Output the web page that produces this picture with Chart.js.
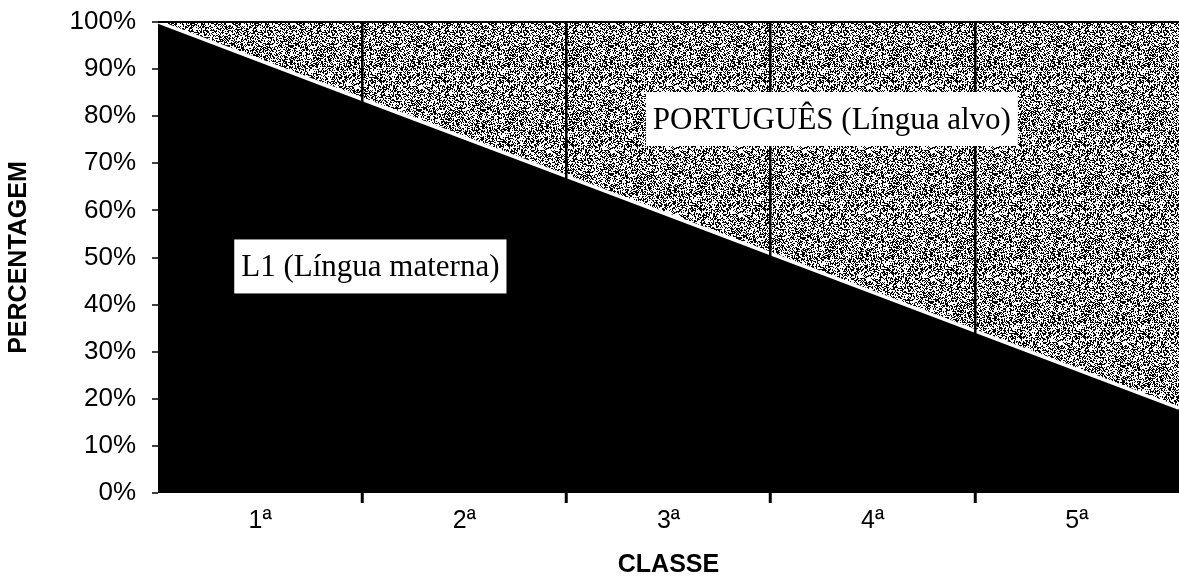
<!DOCTYPE html>
<html>
<head>
<meta charset="utf-8">
<script src="https://cdn.jsdelivr.net/npm/chart.js@4"></script>
<style>
  html, body { margin: 0; padding: 0; background: #fff; }
  #c { display: block; }
</style>
</head>
<body>
<canvas id="c" width="1179" height="578"></canvas>
<script>
// ---- data ----
const categories = ['1ª', '2ª', '3ª', '4ª', '5ª'];
const classBoundaries = [0.5, 1.5, 2.5, 3.5, 4.5, 5.5];
const l1Values = [100, 83.6, 67.2, 50.8, 34.4, 18];
const portuguesValues = [0, 16.4, 32.8, 49.2, 65.6, 82];
const yTickValues = [0, 10, 20, 30, 40, 50, 60, 70, 80, 90, 100];
const areaLabels = [
  { text: 'L1 (Língua materna)', x: 1.54, y: 48.1 },
  { text: 'PORTUGUÊS (Língua alvo)', x: 3.80, y: 79.4 }
];

// ---- stipple texture for the grey area ----
function makeStipple() {
  const n = 64;
  const cv = document.createElement('canvas');
  cv.width = n; cv.height = n;
  const g = cv.getContext('2d');
  const img = g.createImageData(n, n);
  for (let y = 0; y < n; y++) {
    for (let x = 0; x < n; x++) {
      let h = Math.imul(x * 2 + 1, 374761393) ^ Math.imul(y * 2 + 1, 668265263);
      h = Math.imul(h ^ (h >>> 13), 1274126177);
      h = (h ^ (h >>> 16)) >>> 0;
      const v = (h % 100) < 56 ? 255 : 0;
      const i = (y * n + x) * 4;
      img.data[i] = v; img.data[i + 1] = v; img.data[i + 2] = v; img.data[i + 3] = 255;
    }
  }
  g.putImageData(img, 0, 0);
  return document.getElementById('c').getContext('2d').createPattern(cv, 'repeat');
}

const labelBoxes = {
  id: 'labelBoxes',
  afterDraw(chart) {
    const { ctx } = chart;
    const xs = chart.scales.x, ys = chart.scales.y;
    ctx.save();
    ctx.font = '31px "Liberation Serif", "Times New Roman", serif';
    ctx.textAlign = 'center';
    ctx.textBaseline = 'alphabetic';
    areaLabels.forEach(l => {
      const cx = xs.getPixelForValue(l.x);
      const cy = ys.getPixelForValue(l.y);
      const w = ctx.measureText(l.text).width + 14;
      const h = 54;
      ctx.fillStyle = '#fff';
      ctx.fillRect(cx - w / 2, cy - h / 2, w, h);
      ctx.fillStyle = '#000';
      ctx.fillText(l.text, cx, cy + 10);
    });
    ctx.restore();
  }
};

const sans = '"Liberation Sans", Arial, Helvetica, sans-serif';

new Chart(document.getElementById('c'), {
  type: 'line',
  data: {
    labels: categories,
    datasets: [
      {
        label: 'L1 (Língua materna)',
        data: classBoundaries.map((x, i) => ({ x, y: l1Values[i] })),
        xAxisID: 'x', yAxisID: 'y',
        backgroundColor: '#000',
        borderColor: '#fff',
        borderWidth: 3.5,
        pointRadius: 0,
        tension: 0,
        fill: 'origin'
      },
      {
        label: 'PORTUGUÊS (Língua alvo)',
        data: classBoundaries.map((x, i) => ({ x, y: portuguesValues[i] })),
        xAxisID: 'x', yAxisID: 'y',
        backgroundColor: makeStipple(),
        borderColor: 'rgba(0,0,0,0)',
        borderWidth: 0,
        pointRadius: 0,
        tension: 0,
        fill: '-1'
      }
    ]
  },
  options: {
    responsive: false,
    devicePixelRatio: 1,
    animation: false,
    layout: { padding: { top: 22, right: 0, left: 0, bottom: 0 } },
    plugins: { legend: { display: false }, tooltip: { enabled: false } },
    scales: {
      x: {
        type: 'linear',
        display: false,
        min: 0.5,
        max: 5.5
      },
      xc: {
        type: 'category',
        position: 'bottom',
        labels: categories,
        offset: true,
        border: { display: false },
        grid: {
          z: 1,
          offset: true,
          drawOnChartArea: true,
          color: c => (c.index >= 1 && c.index <= 4) ? '#000' : 'rgba(0,0,0,0)',
          lineWidth: 2.5,
          tickLength: 10,
          tickWidth: 3,
          tickColor: c => (c.index >= 1 && c.index <= 4) ? '#000' : 'rgba(0,0,0,0)'
        },
        ticks: {
          color: '#000',
          font: { family: sans, size: 25 },
          padding: 3,
          maxRotation: 0
        },
        title: {
          display: true,
          text: 'CLASSE',
          color: '#000',
          font: { family: sans, size: 25, weight: 'bold', lineHeight: 1 },
          padding: { top: 0, bottom: 0 }
        },
        afterFit: s => { s.height = 85; s.paddingLeft = 0; s.paddingRight = 0; }
      },
      y: {
        type: 'linear',
        stacked: true,
        min: 0,
        max: 100,
        border: { display: false },
        afterBuildTicks: s => { s.ticks = yTickValues.map(v => ({ value: v })); },
        grid: {
          z: 1,
          drawOnChartArea: true,
          color: c => (c.tick && c.tick.value === 100) ? '#000' : 'rgba(0,0,0,0)',
          lineWidth: 2,
          tickLength: 6,
          tickWidth: 1.5,
          tickColor: '#000'
        },
        ticks: {
          color: '#000',
          font: { family: sans, size: 26 },
          padding: 16,
          callback: v => v + '%'
        },
        title: {
          display: true,
          text: 'PERCENTAGEM',
          color: '#000',
          font: { family: sans, size: 25, weight: 'bold', lineHeight: 1 },
          padding: { top: 7, bottom: 0 }
        },
        afterFit: s => { s.width = 158; s.paddingTop = 0; s.paddingBottom = 0; }
      }
    }
  },
  plugins: [labelBoxes]
});
</script>
</body>
</html>
